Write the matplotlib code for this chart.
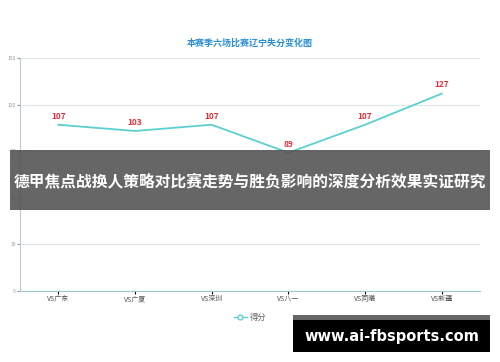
import matplotlib
matplotlib.use('Agg')
import matplotlib.pyplot as plt
from matplotlib.patches import Rectangle
from matplotlib.lines import Line2D

plt.rcParams['font.family'] = ['Noto Sans CJK SC', 'DejaVu Sans']

# 数据
teams = ['VS广东', 'VS广厦', 'VS深圳', 'VS八一', 'VS同曦', 'VS新疆']
points = [107, 103, 107, 89, 107, 127]
y_ticks = [0, 30, 60, 90, 120, 150]
title = '本赛季六场比赛辽宁失分变化图'
legend_label = '得分'
banner = '德甲焦点战换人策略对比赛走势与胜负影响的深度分析效果实证研究'
site = 'www.ai-fbsports.com'

line_color = '#5cd0d0'

fig = plt.figure(figsize=(5, 3.62), dpi=100)
ax = fig.add_axes([0.04, 0.196, 0.92, 0.644])

x = list(range(len(teams)))
ax.plot(x, points, color=line_color, linewidth=1.3)
for xi, v in zip(x, points):
    ax.annotate(str(v), (xi, v), xytext=(0, 3), textcoords='offset points',
                ha='center', va='bottom', color='#e0303a', fontsize=6, fontweight='bold')

ax.set_xlim(-0.5, len(teams) - 0.5)
ax.set_ylim(0, 150)
ax.set_yticks(y_ticks)
ax.set_xticks(x)
ax.set_xticklabels([])
# 类别标签用统一基线绘制
for xi, name in zip(x, teams):
    ax.annotate(name, (xi, 0), xycoords=('data', 'axes fraction'),
                xytext=(0, -7), textcoords='offset points',
                ha='center', va='baseline', fontsize=5, color='#555555')
ax.tick_params(axis='y', labelsize=3.5, colors='#999999', length=2, pad=1)
ax.tick_params(axis='x', length=2)
ax.grid(axis='y', color='#dde6ea', linewidth=0.8)
ax.set_axisbelow(True)
for s in ['top', 'right']:
    ax.spines[s].set_visible(False)
ax.spines['left'].set_color('#b8ccd4')
ax.spines['bottom'].set_color('#9ec8d0')

fig.text(0.5, 0.881, title, ha='center', va='center', color='#2a8fd6',
         fontsize=6.5, fontweight='bold')

handle = Line2D([], [], color=line_color, linewidth=1, marker='o', markersize=3.5,
                markerfacecolor='white', markeredgecolor=line_color)
leg = fig.legend([handle], [legend_label], loc='center', bbox_to_anchor=(0.5, 0.124),
                 frameon=False, fontsize=6, handlelength=1.6, handletextpad=0.3)
for t in leg.get_texts():
    t.set_color('#666666')

# 横幅
fig.patches.append(Rectangle((10 / 500, 1 - 210 / 362), 480 / 500, 60 / 362,
                             transform=fig.transFigure, facecolor='#555555',
                             alpha=0.9, zorder=5))
fig.text(0.5, 1 - 181 / 362, banner, ha='center', va='center', color='white',
         fontsize=11.3, fontweight='bold', zorder=6)

# 水印
fig.patches.append(Rectangle((293 / 500, 1 - 320 / 362), 197 / 500, 5 / 362,
                             transform=fig.transFigure, facecolor='#666666', zorder=5))
fig.patches.append(Rectangle((293 / 500, 1 - 352 / 362), 197 / 500, 32 / 362,
                             transform=fig.transFigure, facecolor='black', zorder=5))
fig.text(392 / 500, 1 - 336 / 362, site, ha='center', va='center', color='white',
         fontsize=10.5, fontweight='bold', family='DejaVu Sans', zorder=6)

fig.savefig('out.png', dpi=100)
